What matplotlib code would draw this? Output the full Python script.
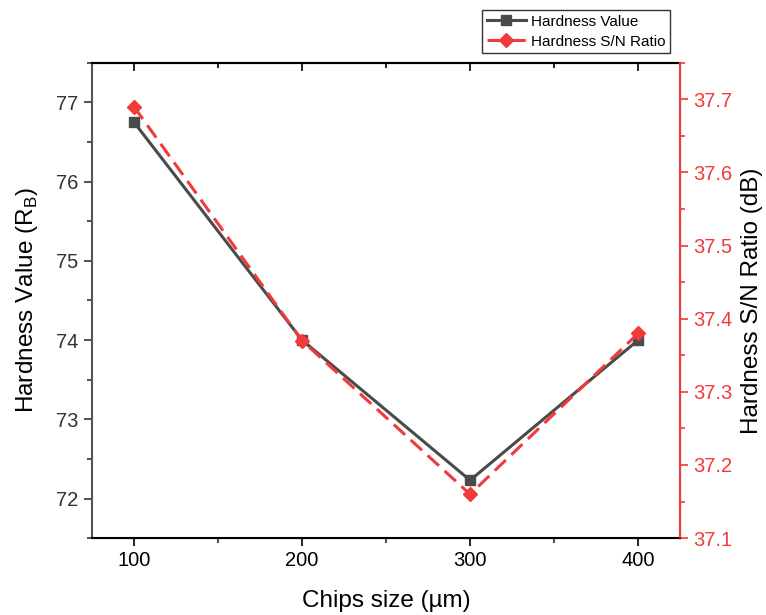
import matplotlib.pyplot as plt
from matplotlib.ticker import MultipleLocator

plt.rcParams['font.family'] = ['Liberation Sans', 'DejaVu Sans']

# data
chip_size = [100, 200, 300, 400]
hardness = [76.75, 74.0, 72.23, 74.0]
sn_ratio = [37.69, 37.37, 37.16, 37.38]

gray = '#4a4a4a'
red = '#f23a3a'

fig = plt.figure(figsize=(7.66, 6.15), dpi=100)
ax = fig.add_axes([0.120, 0.125, 0.768, 0.773])
ax2 = ax.twinx()

l1, = ax.plot(chip_size, hardness, '-', color=gray, lw=2.2, marker='s',
              ms=7.5, label='Hardness Value', zorder=3)
l2, = ax2.plot(chip_size, sn_ratio, '--', color=red, lw=2.2, marker='D',
               ms=7.5, dashes=(5, 2.5), label='Hardness S/N Ratio', zorder=4)

ax.set_xlim(75, 425)
ax.set_ylim(71.5, 77.5)
ax2.set_ylim(37.1, 37.75)

ax.xaxis.set_major_locator(MultipleLocator(100))
ax.xaxis.set_minor_locator(MultipleLocator(50))
ax.yaxis.set_major_locator(MultipleLocator(1))
ax.yaxis.set_minor_locator(MultipleLocator(0.5))
ax2.yaxis.set_major_locator(MultipleLocator(0.1))
ax2.yaxis.set_minor_locator(MultipleLocator(0.05))

ax.tick_params(axis='both', which='major', length=6, width=1.2, labelsize=14.5,
               direction='out', colors='#333333')
ax.tick_params(axis='both', which='minor', length=3.5, width=1.2,
               direction='out', colors='#333333')
ax.tick_params(axis='x', labelcolor='black', colors='black')

# top spine: ticks pointing inward, no labels
top = ax.secondary_xaxis('top')
top.xaxis.set_major_locator(MultipleLocator(100))
top.xaxis.set_minor_locator(MultipleLocator(50))
top.tick_params(which='major', direction='in', length=6, width=1.2, labeltop=False)
top.tick_params(which='minor', direction='in', length=3.5, width=1.2)
top.spines['top'].set_linewidth(1.5)

ax2.tick_params(axis='y', which='major', length=6, width=1.2, labelsize=14.5,
                colors=red, direction='out')
ax2.tick_params(axis='y', which='minor', length=3.5, width=1.2,
                colors=red, direction='out')
ax2.yaxis.set_major_formatter(plt.FuncFormatter(lambda v, p: f'{v:.1f}'))

for s in ['bottom', 'top']:
    ax.spines[s].set_color('black')
    ax.spines[s].set_linewidth(1.5)
ax.spines['left'].set_color('#555555')
ax.spines['left'].set_linewidth(1.5)
ax2.spines['right'].set_color(red)
ax2.spines['right'].set_linewidth(1.5)
ax2.spines['left'].set_visible(False)
ax2.spines['top'].set_visible(False)

ax.set_xlabel('Chips size (µm)', fontsize=17.5, labelpad=14)
ax.set_ylabel('Hardness Value (R$_\\mathregular{B}$)', fontsize=17.5, labelpad=12)
ax2.set_ylabel('Hardness S/N Ratio (dB)', fontsize=17.5, labelpad=6)

fig.legend([l1, l2], ['Hardness Value', 'Hardness S/N Ratio'],
           loc='upper left', bbox_to_anchor=(482 / 766, 1 - 10 / 615),
           fontsize=11, frameon=True, fancybox=False, edgecolor='black',
           handlelength=2.6, handletextpad=0.3, borderpad=0.3,
           labelspacing=0.4, borderaxespad=0, markerscale=0.9)

fig.savefig('out.png', dpi=100)
